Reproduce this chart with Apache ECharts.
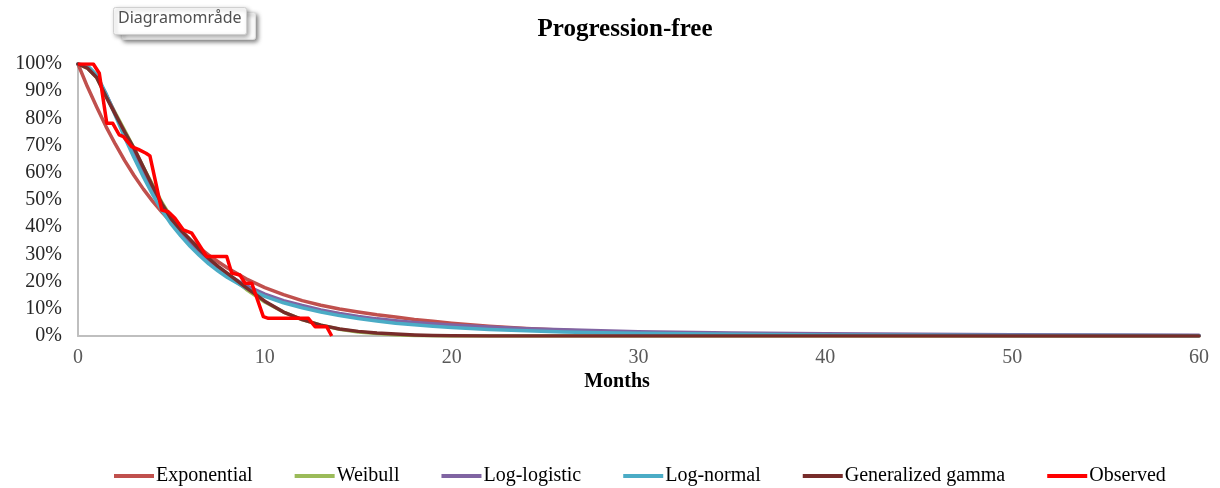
<!DOCTYPE html>
<html>
<head>
<meta charset="utf-8">
<script src="https://cdn.jsdelivr.net/npm/echarts@6/dist/echarts.min.js"></script>
<style>
html,body{margin:0;padding:0;background:#fff;}
#chart{width:1220px;height:488px;}
</style>
</head>
<body>
<div id="chart"></div>
<script>
// ---- data ----
var seriesNames = ['Exponential', 'Weibull', 'Log-logistic', 'Log-normal', 'Generalized gamma', 'Observed'];
var fitMonths = [0,0.5,1,1.5,2,2.5,3,3.5,4,4.5,5,5.5,6,6.5,7,7.5,8,9,10,11,12,13,14,15,16,17,18,19,20,22,24,26,28,30,35,40,45,50,55,60];
var exponential = [100,91.7,84.2,77,70.5,64.5,59,54,49.5,45.5,41.8,38.4,35.3,32.4,29.7,27.3,25,21,17.8,15.2,13,11.3,9.9,8.8,7.8,7.0,6.1,5.4,4.7,3.6,2.8,2.1,1.6,1.2,0.6,0.3,0.15,0.08,0.04,0.02];
var weibull = [100,98.5,95,88.5,82,75.5,69,62,55.5,49,43.5,39,35,31.3,28,25.1,22.5,17.2,12.5,8.8,6,4,2.5,1.5,0.9,0.5,0.2,0.1,0,0,0,0,0,0,0,0,0,0,0,0];
var logLogistic = [100,99,95.5,89,81.5,74,67,60,53.5,47.5,42,37.8,34,30.5,27.5,24.9,22.5,18.5,15.4,13,11.2,9.6,8.3,7.2,6.3,5.6,5.0,4.5,4.0,3.3,2.7,2.3,1.9,1.6,1.1,0.8,0.6,0.45,0.35,0.3];
var logNormal = [100,99.5,96,89,81,73,65.5,58.5,52,46,41,36.8,33,29.6,26.5,23.9,21.5,17.6,14.6,12.2,10.4,8.8,7.5,6.4,5.5,4.7,4.1,3.6,3.1,2.4,1.9,1.5,1.2,1.0,0.6,0.4,0.3,0.2,0.15,0.1];
var genGamma = [100,98.5,95,88,81.5,75,69,62,55,48.5,43,39,35.5,31.8,28.5,25.6,23,17.8,12.8,8.8,6,4,2.6,1.7,1.1,0.7,0.4,0.2,0.1,0,0,0,0,0,0,0,0,0,0,0];
var observedMonths = [0,0.82,1.14,1.54,1.86,2.21,2.43,2.87,3.23,3.64,3.85,4.48,4.83,5.19,5.64,6.09,6.89,7.96,8.23,8.67,8.94,9.30,9.92,10.19,12.33,12.69,13.31,13.58];
var observed = [100,100,96.6,78.2,78.2,73.9,73.3,69.6,68.6,67.2,66.2,46.3,45.7,43.3,39.0,37.8,29.2,29.2,23.1,22.4,19.4,19.4,7.1,6.5,6.5,3.4,3.4,0];
var xTicks = [0,10,20,30,40,50,60];
var yTicks = [0,10,20,30,40,50,60,70,80,90,100];
var colors = ['#C0504D','#9BBB59','#8064A2','#4BACC6','#772C2A','#FF0000'];

function pairs(xs, ys){ return xs.map(function(x,i){ return [x, ys[i]]; }); }
var fitted = [exponential, weibull, logLogistic, logNormal, genGamma];

var series = fitted.map(function(arr, i){
  return {
    name: seriesNames[i], type: 'line', data: pairs(fitMonths, arr),
    smooth: false, showSymbol: false, symbol: 'none',
    lineStyle: {color: colors[i], width: 3.5, join: 'round', cap: 'round'}, itemStyle: {color: colors[i]},
    z: 2 + i
  };
});
series.push({
  name: seriesNames[5], type: 'line', data: pairs(observedMonths, observed),
  smooth: false, showSymbol: false, symbol: 'none',
  lineStyle: {color: colors[5], width: 3.5, join: 'round'}, itemStyle: {color: colors[5]}, z: 10
});

var serif = '"Liberation Serif", "Times New Roman", serif';
var chart = echarts.init(document.getElementById('chart'), null, {renderer: 'canvas'});
chart.setOption({
  animation: false,
  backgroundColor: '#ffffff',
  title: [
    {text: 'Progression-free', left: 620, top: 12, textAlign: 'center',
     textStyle: {fontFamily: serif, fontSize: 25, fontWeight: 'bold', color: '#000'}},
    {text: 'Months', left: 612, top: 367, textAlign: 'center',
     textStyle: {fontFamily: serif, fontSize: 20, fontWeight: 'bold', color: '#000'}}
  ],
  legend: {
    data: seriesNames.map(function(n){ return {name: n, icon: 'rect'}; }),
    left: 114, top: 466, padding: 0, itemWidth: 40, itemHeight: 4, itemGap: 42,
    textStyle: {fontFamily: serif, fontSize: 20, color: '#000', padding: [0,0,0,-3]}
  },
  grid: {left: 78, right: 21, top: 64, bottom: 152, containLabel: false},
  xAxis: {
    type: 'value', min: 0, max: 60, interval: 10,
    axisLine: {show: true, lineStyle: {color: '#BFBFBF', width: 2}},
    axisTick: {show: false}, splitLine: {show: false},
    axisLabel: {fontFamily: serif, fontSize: 20, color: '#595959', margin: 12,
      formatter: function(v){ return xTicks.indexOf(v) >= 0 ? String(v) : ''; }}
  },
  yAxis: {
    type: 'value', min: 0, max: 100, interval: 10,
    axisLine: {show: true, lineStyle: {color: '#BFBFBF', width: 2}},
    axisTick: {show: false}, splitLine: {show: false},
    axisLabel: {fontFamily: serif, fontSize: 20, color: '#262626', margin: 16,
      formatter: function(v){ return yTicks.indexOf(v) >= 0 ? v + '%' : ''; }}
  },
  graphic: [
    {type: 'rect', left: 121, top: 12, z: 100,
     shape: {width: 134, height: 27, r: 2},
     style: {fill: '#ffffff', stroke: '#dcdcdc', lineWidth: 1,
             shadowBlur: 4, shadowOffsetX: 2, shadowOffsetY: 2, shadowColor: 'rgba(0,0,0,0.5)'}},
    {type: 'rect', left: 113, top: 7, z: 101,
     shape: {width: 133, height: 27, r: 2},
     style: {fill: '#ffffff', stroke: '#d0d0d0', lineWidth: 1,
             shadowBlur: 4, shadowOffsetX: 2, shadowOffsetY: 2, shadowColor: 'rgba(0,0,0,0.35)'}},
    {type: 'text', left: 118, top: 10, z: 102,
     style: {text: 'Diagramområde', fill: '#505050', font: '16px "Noto Sans", "Open Sans", sans-serif'}}
  ],
  series: series
});
</script>
</body>
</html>
